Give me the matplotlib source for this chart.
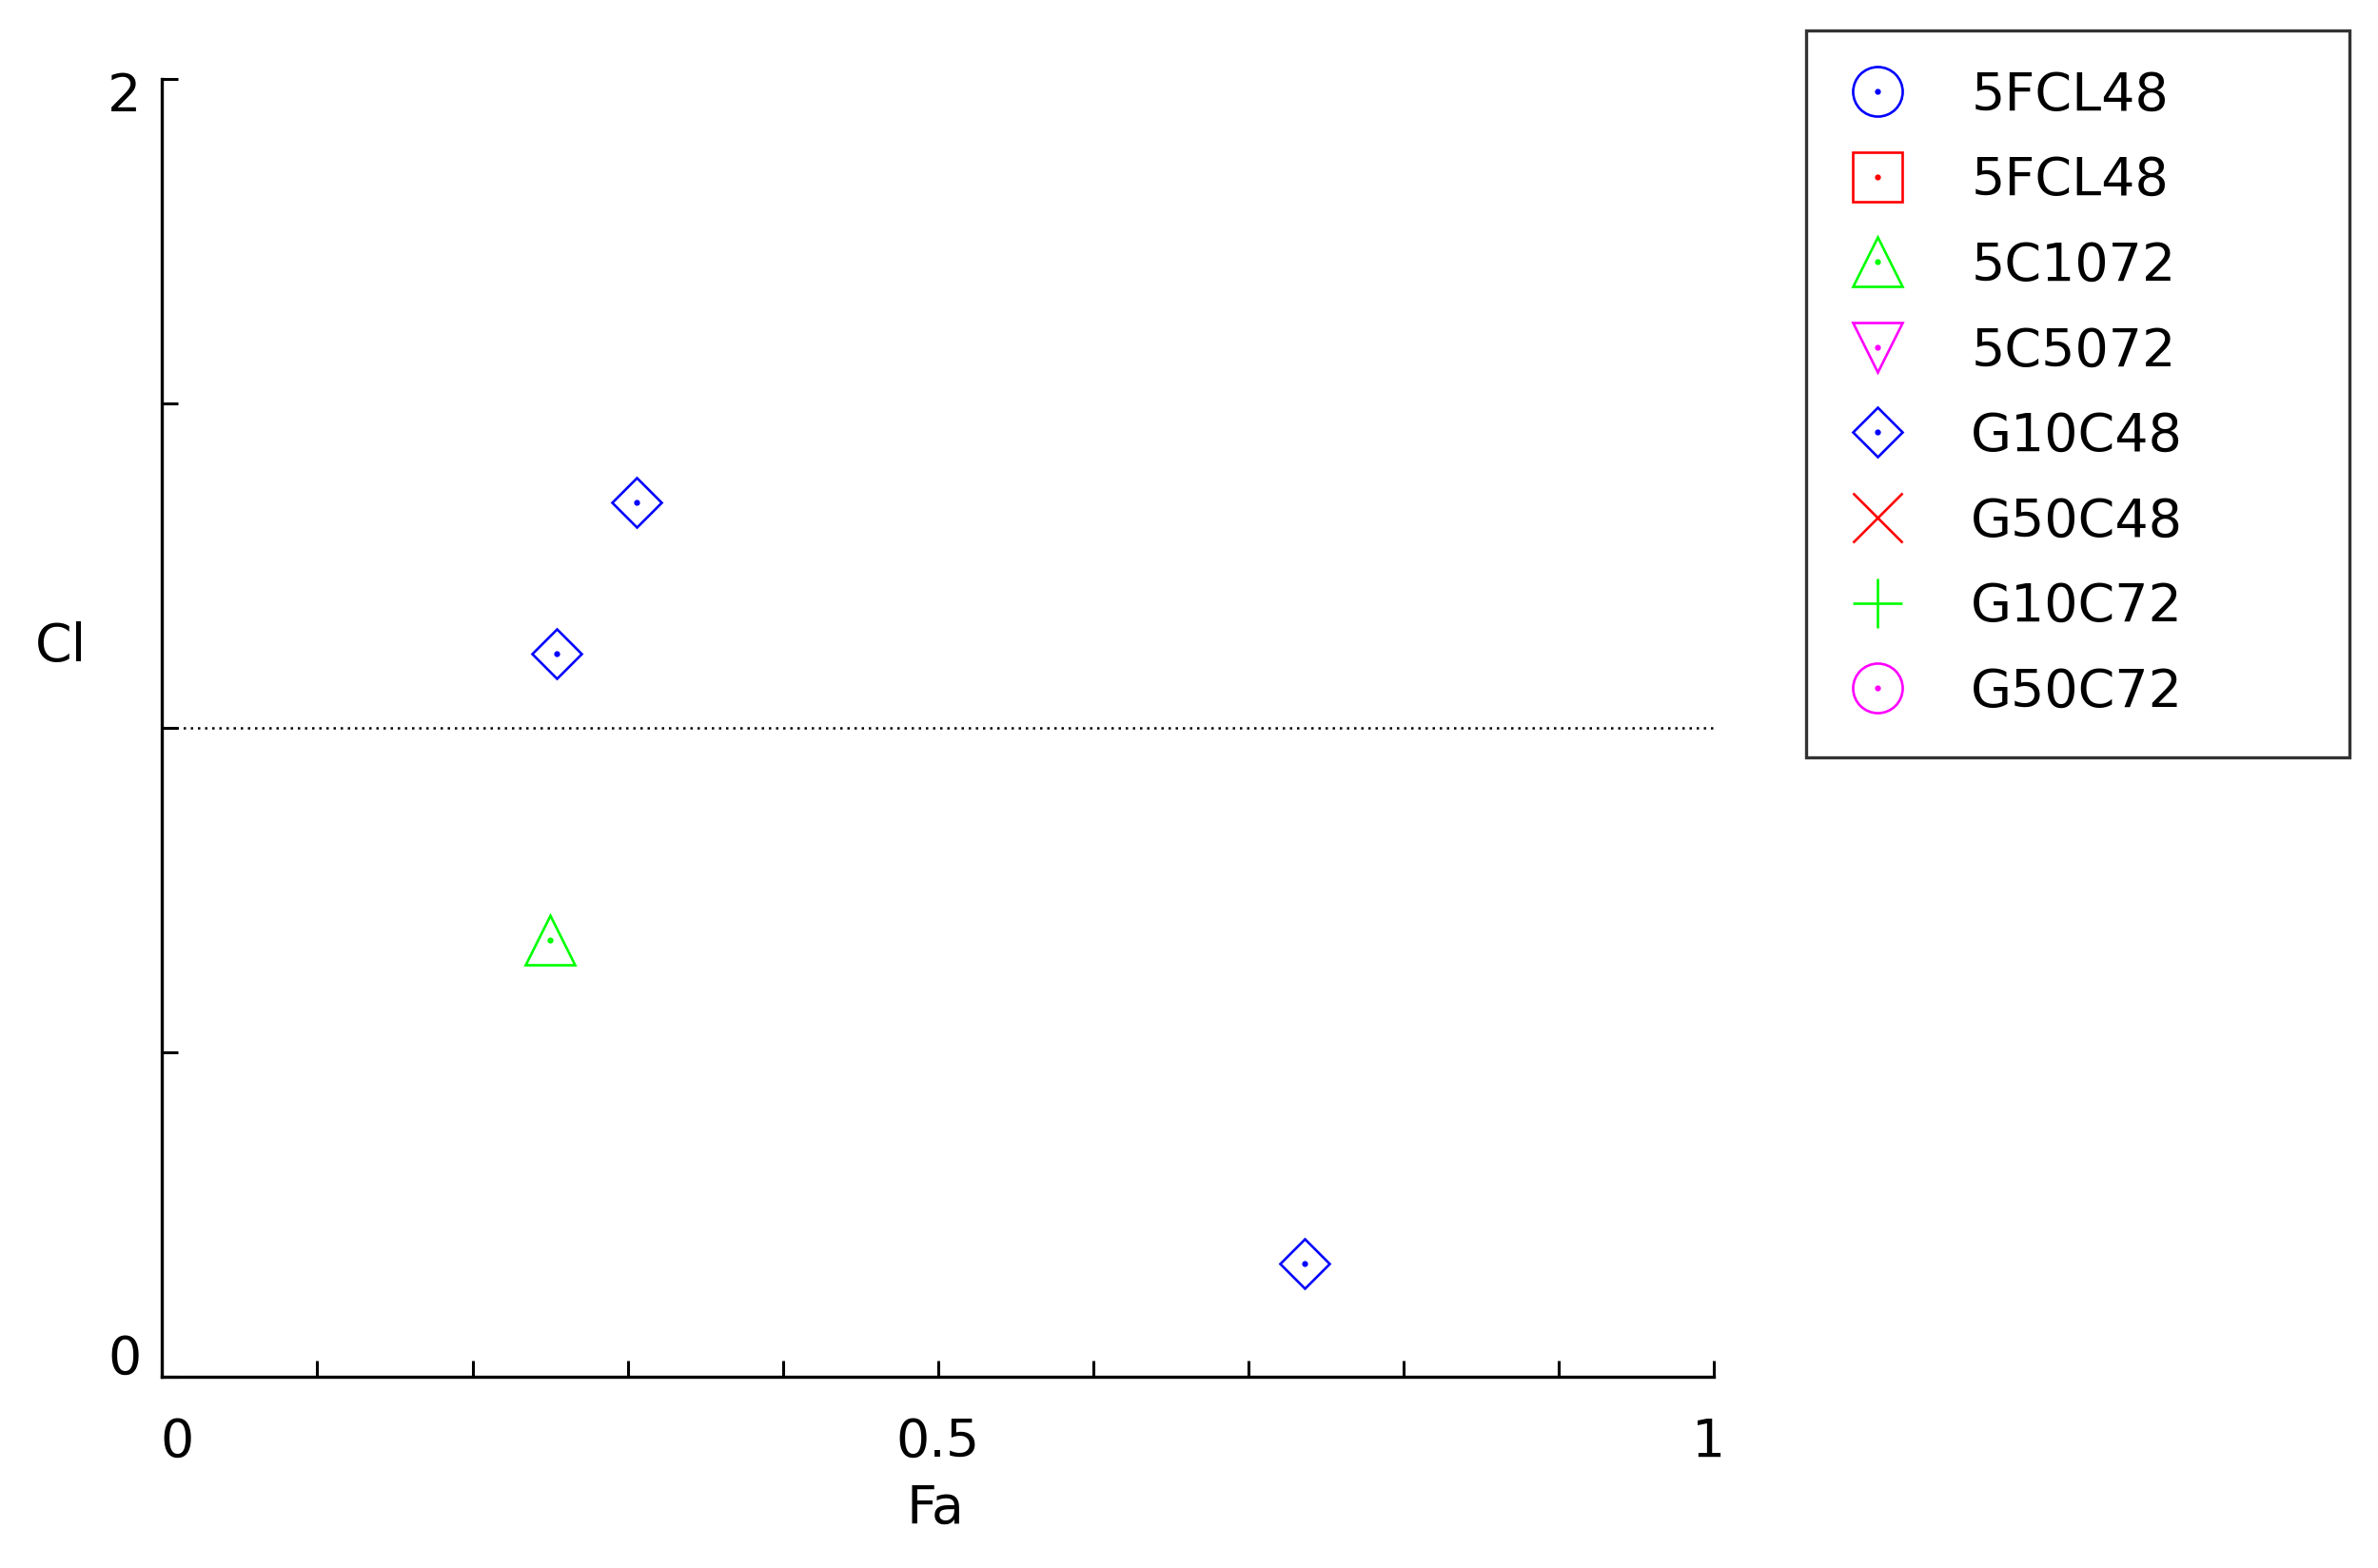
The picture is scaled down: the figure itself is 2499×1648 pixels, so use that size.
import matplotlib
matplotlib.use("Agg")
import matplotlib.pyplot as plt
from matplotlib.legend_handler import HandlerTuple
from matplotlib.transforms import ScaledTranslation

# ---- data ----
series_names = ["5FCL48", "5FCL48", "5C1072", "5C5072", "G10C48", "G50C48", "G10C72", "G50C72"]
series_markers = ["o", "s", "^", "v", "D", "x", "+", "o"]
series_colors = ["#0000ff", "#ff0000", "#00ff00", "#ff00ff", "#0000ff", "#ff0000", "#00ff00", "#ff00ff"]
series_x = [[], [], [0.250], [], [0.306, 0.254, 0.736], [], [], []]
series_y = [[], [], [0.673], [], [1.348, 1.114, 0.175], [], [], []]
center_dot = [True, True, True, True, True, False, False, True]

ref_level = 1.0
x_ticks = [0, 0.1, 0.2, 0.3, 0.4, 0.5, 0.6, 0.7, 0.8, 0.9, 1.0]
x_tick_labels = ["0", "", "", "", "", "0.5", "", "", "", "", "1"]
y_ticks = [0, 0.5, 1.0, 1.5, 2.0]
y_tick_labels = ["0", "", "", "", "2"]
x_label = "Fa"
y_label = "Cl"

FS = 40
fig = plt.figure(figsize=(24.99, 16.48), dpi=100)
ax = fig.add_axes([0.0682, 0.1220, 0.6525, 0.8277])

handles = []
for name, mk, col, xs, ys, dot in zip(series_names, series_markers, series_colors,
                                       series_x, series_y, center_dot):
    ms = 26.5 if mk == "D" else 37.5
    h1, = ax.plot(xs, ys, ls="none", marker=mk, ms=ms, mfc="none", mec=col,
                  mew=1.9, clip_on=False)
    if dot:
        h2, = ax.plot(xs, ys, ls="none", marker="o", ms=4.5, mfc=col, mec=col,
                      mew=0, clip_on=False)
        handles.append((h1, h2))
    else:
        handles.append(h1)

ax.axhline(ref_level, color="black", lw=1.8, ls=(0, (1, 2.0)))

ax.set_xlim(0, 1)
ax.set_ylim(0, 2)
ax.set_xticks(x_ticks)
ax.set_xticklabels(x_tick_labels)
ax.set_yticks(y_ticks)
ax.set_yticklabels(y_tick_labels)
ax.tick_params(axis="both", direction="in", length=12, width=2.2, labelsize=FS,
               colors="black")
ax.tick_params(axis="x", pad=30)
ax.tick_params(axis="y", pad=16)
for sp in ["top", "right"]:
    ax.spines[sp].set_visible(False)
for sp in ["left", "bottom"]:
    ax.spines[sp].set_linewidth(2.4)

# small offsets of individual tick labels (inches)
xoff = {0: (0.16, 0), 10: (-0.05, 0)}
for i, lbl in enumerate(ax.get_xticklabels()):
    if i in xoff:
        dx, dy = xoff[i]
        lbl.set_transform(lbl.get_transform() + ScaledTranslation(dx, dy, fig.dpi_scale_trans))
yoff = {0: (0, 0.24), 4: (0, -0.13)}
for i, lbl in enumerate(ax.get_yticklabels()):
    if i in yoff:
        dx, dy = yoff[i]
        lbl.set_transform(lbl.get_transform() + ScaledTranslation(dx, dy, fig.dpi_scale_trans))

ax.set_xlabel(x_label, fontsize=FS)
ax.xaxis.set_label_coords(0.498, -0.102)
ax.xaxis.label.set_va("center")
ax.set_ylabel(y_label, fontsize=FS, rotation=0, va="center", ha="center")
ax.yaxis.set_label_coords(-0.065, 0.562)

leg = fig.legend(handles, series_names, loc="upper left",
                 bbox_to_anchor=(0.7595, 0.5182, 0.2285, 0.4624),
                 bbox_transform=fig.transFigure, mode="expand", borderaxespad=0,
                 fontsize=FS, numpoints=1, frameon=True, fancybox=False,
                 edgecolor="black", borderpad=0.75, handlelength=1.19,
                 handletextpad=1.18, labelspacing=0.64,
                 handler_map={tuple: HandlerTuple(ndivide=1)})
leg.get_frame().set_linewidth(2.4)

fig.savefig("out.png", dpi=100, facecolor="white")
